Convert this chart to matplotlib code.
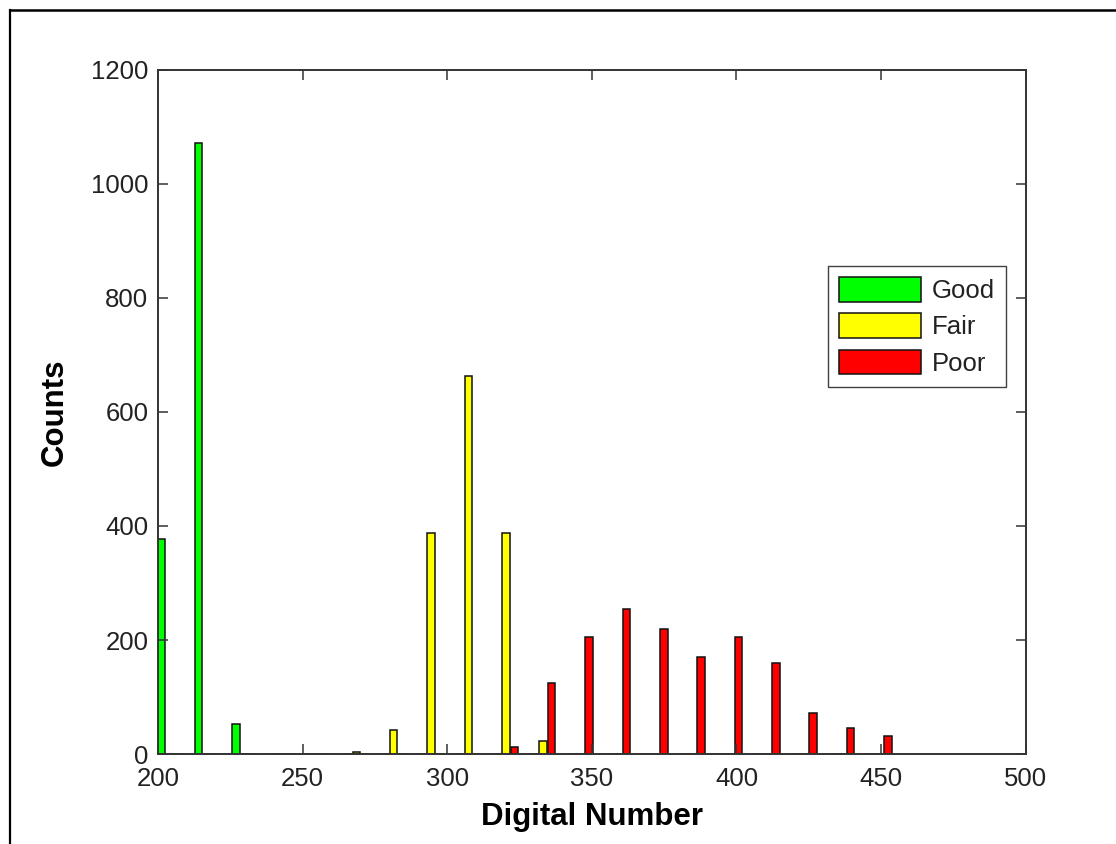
import matplotlib
matplotlib.use("Agg")
import matplotlib.pyplot as plt
from matplotlib.lines import Line2D
import numpy as np

# ---- data ----
bin_centers = [204.0, 216.9, 229.8, 242.8, 255.7, 268.6, 281.5, 294.4, 307.4, 320.3,
               333.2, 346.1, 359.0, 372.0, 384.9, 397.8, 410.7, 423.6, 436.6, 449.5]
good = [378, 1072, 52, 0, 0, 0, 0, 0, 0, 0, 0, 0, 0, 0, 0, 0, 0, 0, 0, 0]
fair = [0, 0, 0, 0, 0, 3, 42, 388, 663, 388, 23, 0, 0, 0, 0, 0, 0, 0, 0, 0]
poor = [0, 0, 0, 0, 0, 0, 0, 0, 0, 13, 125, 206, 255, 220, 171, 206, 160, 72, 46, 31]
series_labels = ["Good", "Fair", "Poor"]
series_colors = ["#00ff00", "#ffff00", "#ff0000"]
x_ticks = [200, 250, 300, 350, 400, 450, 500]
y_ticks = [0, 200, 400, 600, 800, 1000, 1200]

W, H = 1116, 844
fig = plt.figure(figsize=(W / 100, H / 100), dpi=100)
fig.patch.set_facecolor("white")
ax = fig.add_axes([158 / W, 1 - 754 / H, (1025.7 - 158) / W, (754 - 70) / H])

centers = np.array(bin_centers)
offset = 2.9
width = 2.6
for i, (vals, lab, col) in enumerate(zip([good, fair, poor], series_labels, series_colors)):
    ax.bar(centers + (i - 1) * offset, vals, width=width, color=col,
           edgecolor="#111111", linewidth=1.1, label=lab)

ax.set_xlim(200, 500)
ax.set_ylim(0, 1200)
ax.set_xticks(x_ticks)
ax.set_yticks(y_ticks)

fontfam = ["Liberation Sans", "DejaVu Sans"]
ax.tick_params(direction="in", length=7, width=1.1, color="#333333",
               top=True, right=True, labelsize=18.5, labelcolor="#222222")
ax.tick_params(axis="x", pad=9)
ax.tick_params(axis="y", pad=7)
for lbl in ax.get_xticklabels() + ax.get_yticklabels():
    lbl.set_family(fontfam)
for sp in ax.spines.values():
    sp.set_linewidth(1.4)
    sp.set_color("#333333")

ax.set_xlabel("Digital Number", fontsize=22.5, fontweight="bold", family=fontfam, labelpad=8)
ax.set_ylabel("Counts", fontsize=22.5, fontweight="bold", family=fontfam, labelpad=15)

leg = ax.legend(loc="upper left", bbox_to_anchor=(828 / W, 1 - 266 / H),
                bbox_transform=fig.transFigure, borderaxespad=0,
                fancybox=False, frameon=True, handlelength=3.2, handleheight=1.1,
                handletextpad=0.4, labelspacing=0.4, borderpad=0.43,
                prop={"family": fontfam, "size": 18.5})
leg.get_frame().set_edgecolor("#111111")
leg.get_frame().set_linewidth(1.0)
for t in leg.get_texts():
    t.set_color("#222222")

# outer window frame (top and left edges visible)
fig.add_artist(Line2D([10 / W, 1.0], [1 - 10 / H, 1 - 10 / H], transform=fig.transFigure,
                      color="black", linewidth=1.8))
fig.add_artist(Line2D([10 / W, 10 / W], [0.0, 1 - 10 / H], transform=fig.transFigure,
                      color="black", linewidth=1.6))

fig.savefig("out.png", dpi=100, facecolor="white")
